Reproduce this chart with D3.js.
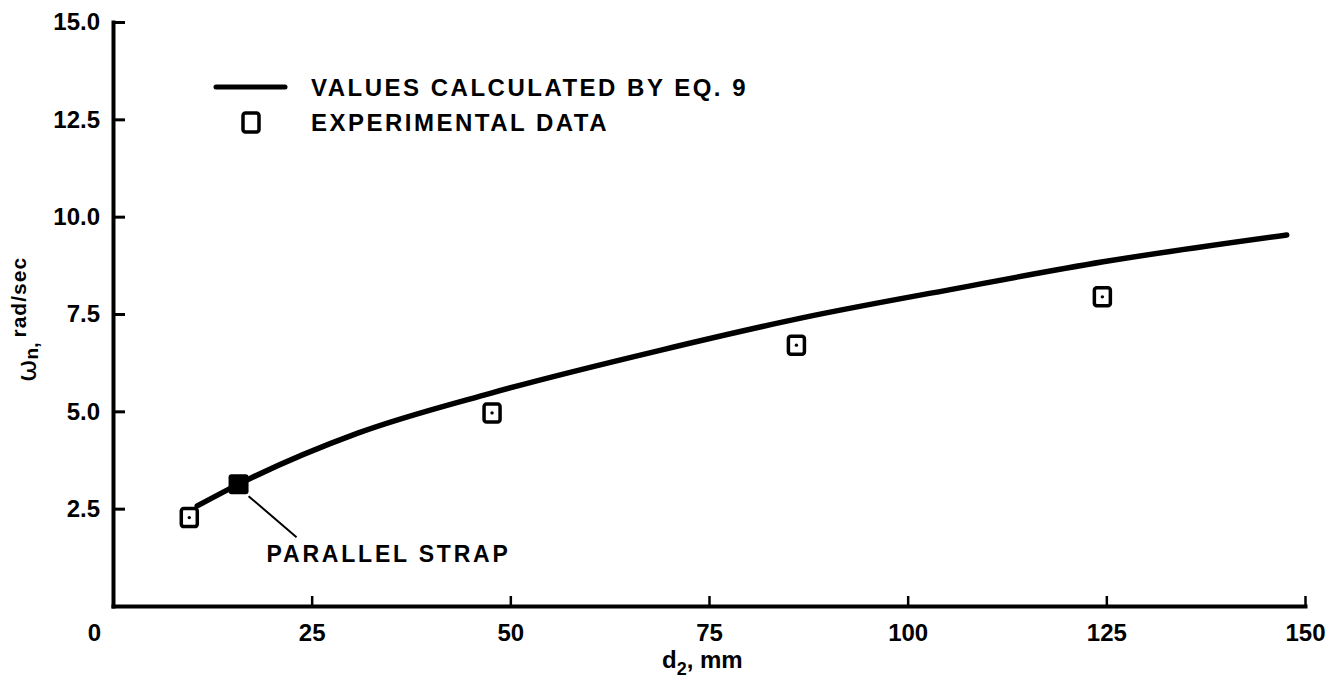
<!DOCTYPE html>
<html>
<head>
<meta charset="utf-8">
<script src="https://cdn.jsdelivr.net/npm/d3@7"></script>
<style>
  body { margin: 0; background: #fff; }
  svg text { font-family: "Liberation Sans", Arial, sans-serif; font-weight: bold; fill: #000; }
</style>
</head>
<body>
<svg id="chart" width="1344" height="687"></svg>
<script>
// calculated curve (eq. 9)
const curveX = [10.6, 16.7, 30.8, 47.6, 69.1, 86.7, 105.7, 124.6, 147.7];
const curveY = [2.57, 3.22, 4.44, 5.47, 6.58, 7.40, 8.14, 8.84, 9.53];
// experimental points
const expX = [9.6, 47.7, 86.0, 124.5];
const expY = [2.27, 4.96, 6.7, 7.94];
// parallel strap point
const strapX = [15.8];
const strapY = [3.13];

const xTicks = [0, 25, 50, 75, 100, 125, 150];
const yTicks = [2.5, 5, 7.5, 10, 12.5, 15];
const legendLabels = ["VALUES CALCULATED BY EQ. 9", "EXPERIMENTAL DATA"];
const strapLabel = "PARALLEL STRAP";

const width = 1344, height = 687;
const margin = { top: 22, right: 39, bottom: 81, left: 113 };
const w = width - margin.left - margin.right;
const h = height - margin.top - margin.bottom;

const svg = d3.select("#chart");
const g = svg.append("g").attr("transform", `translate(${margin.left},${margin.top})`);

const x = d3.scaleLinear().domain([0, 150]).range([0, w]);
const y = d3.scaleLinear().domain([0, 15]).range([h, 0]);

// x axis, ticks pointing up
const xAxis = g.append("g")
    .attr("transform", `translate(0,${h})`)
    .call(d3.axisBottom(x).tickValues(xTicks).tickSizeInner(-10).tickSizeOuter(0).tickPadding(18).tickFormat(d3.format("d")));
xAxis.select(".domain").attr("stroke-width", 4).attr("stroke-linecap", "square");
xAxis.selectAll(".tick line").attr("stroke-width", 2.5);
xAxis.selectAll("text").style("font-size", "24px").attr("font-family", null);
xAxis.selectAll(".tick").filter(d => d === 0).select("text").attr("dx", -19);

// y axis, ticks pointing right
const yAxis = g.append("g")
    .call(d3.axisLeft(y).tickValues(yTicks).tickSizeInner(-12).tickSizeOuter(0).tickPadding(13).tickFormat(d3.format(".1f")));
yAxis.select(".domain").attr("stroke-width", 4).attr("stroke-linecap", "square");
yAxis.selectAll(".tick line").attr("stroke-width", 3);
yAxis.selectAll("text").style("font-size", "24px").attr("font-family", null);

// axis titles
const xt = svg.append("text")
    .attr("x", 662).attr("y", 668)
    .style("font-size", "24px");
xt.append("tspan").text("d");
xt.append("tspan").attr("dy", 7).style("font-size", "18px").text("2");
xt.append("tspan").attr("dy", -7).text(", mm");

const yt = svg.append("text")
    .attr("transform", "translate(36,382) rotate(-90)");
yt.append("tspan").style("font-weight", "normal").style("font-family", "DejaVu Sans").style("font-size", "27px").text("ω");
yt.append("tspan").attr("dy", 2).style("font-size", "19px").text("n,");
yt.append("tspan").attr("dx", 5).attr("dy", -12).style("font-size", "21px").style("letter-spacing", "1px").text("rad/sec");

// curve
const line = d3.line()
    .x(d => x(d[0]))
    .y(d => y(d[1]))
    .curve(d3.curveMonotoneX);
g.append("path")
    .datum(curveX.map((v, i) => [v, curveY[i]]))
    .attr("fill", "none")
    .attr("stroke", "#000")
    .attr("stroke-width", 5.5)
    .attr("stroke-linecap", "round")
    .attr("d", line);

// experimental squares
const pts = g.append("g").selectAll("g")
    .data(expX.map((v, i) => [v, expY[i]]))
    .join("g")
    .attr("transform", d => `translate(${x(d[0])},${y(d[1])})`);
pts.append("rect")
    .attr("x", -8).attr("y", -9).attr("width", 16).attr("height", 18).attr("rx", 2.5)
    .attr("fill", "#fff").attr("stroke", "#000").attr("stroke-width", 3.5);
pts.append("circle").attr("r", 1.7).attr("fill", "#000");

// parallel strap (filled)
g.append("g").selectAll("rect")
    .data(strapX.map((v, i) => [v, strapY[i]]))
    .join("rect")
    .attr("x", d => x(d[0]) - 10).attr("y", d => y(d[1]) - 10)
    .attr("width", 20).attr("height", 20).attr("rx", 3)
    .attr("fill", "#000");

const sx = x(strapX[0]), sy = y(strapY[0]);
g.append("line")
    .attr("x1", sx + 10).attr("y1", sy + 12)
    .attr("x2", sx + 58).attr("y2", sy + 53)
    .attr("stroke", "#000").attr("stroke-width", 2);
g.append("text")
    .attr("x", sx + 28).attr("y", sy + 78)
    .style("font-size", "23px").style("letter-spacing", "2.8px")
    .text(strapLabel);

// legend
const legend = svg.append("g").attr("transform", "translate(216,87)");
legend.append("line")
    .attr("x1", 0).attr("x2", 69).attr("y1", 0).attr("y2", 0)
    .attr("stroke", "#000").attr("stroke-width", 5).attr("stroke-linecap", "round");
legend.append("rect")
    .attr("x", 27).attr("y", 26).attr("width", 16).attr("height", 19).attr("rx", 2.5)
    .attr("fill", "#fff").attr("stroke", "#000").attr("stroke-width", 3.5);
legend.selectAll("text.lab")
    .data(legendLabels)
    .join("text")
    .attr("class", "lab")
    .attr("x", 95)
    .attr("y", (d, i) => 9 + i * 35)
    .style("font-size", "24px").style("letter-spacing", "2.5px")
    .text(d => d);
</script>
</body>
</html>
